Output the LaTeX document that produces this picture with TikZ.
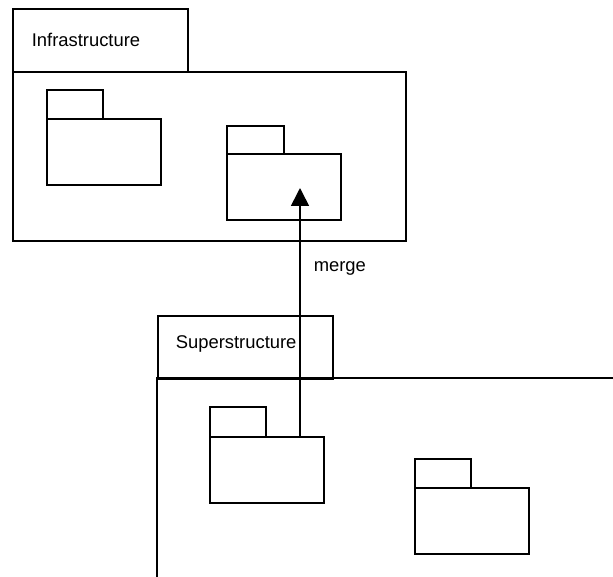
\documentclass[tikz,border=0pt]{standalone}
\usepackage{fontspec}
\setmainfont{Liberation Sans}
\usetikzlibrary{arrows.meta}
\begin{document}
\begin{tikzpicture}[x=1pt,y=-1pt,
  line width=1.6pt,
  box/.style={draw,rectangle,inner sep=0pt,anchor=north west},
  lbl/.style={font=\fontsize{18.4}{20}\selectfont,inner sep=0pt}]
\useasboundingbox (0,0) rectangle (613,577);
% Infrastructure package
\node[box,minimum width=175pt,minimum height=63pt] (infTab) at (12,8) {};
\node[box,minimum width=393pt,minimum height=169pt] (infBody) at (12,71) {};
\node[lbl,anchor=west] (infName) at (31,40) {Infrastructure};
% packages inside Infrastructure
\node[box,minimum width=56pt,minimum height=29pt] (iaTab) at (46,89) {};
\node[box,minimum width=114pt,minimum height=66pt] (iaBody) at (46,118) {};
\node[box,minimum width=57pt,minimum height=28pt] (ibTab) at (226,125) {};
\node[box,minimum width=114pt,minimum height=66pt] (ibBody) at (226,153) {};
\coordinate (mergeTip) at (300,188);
% Superstructure package (runs past the right and bottom edges)
\node[box,minimum width=175pt,minimum height=63pt] (supTab) at (157,315) {};
\node[lbl,anchor=west] (supName) at (175,344) {Superstructure};
\coordinate (supRight) at (613,378);
\coordinate (supBottom) at (157,577);
\draw (supRight) -- (supBottom |- supRight) -- (supBottom);
% packages inside Superstructure
\node[box,minimum width=56pt,minimum height=30pt] (saTab) at (209,406) {};
\node[box,minimum width=114pt,minimum height=66pt] (saBody) at (209,436) {};
\node[box,minimum width=56pt,minimum height=29pt] (sbTab) at (414,458) {};
\node[box,minimum width=114pt,minimum height=66pt] (sbBody) at (414,487) {};
% merge dependency
\coordinate (mergeStart) at (mergeTip |- saBody.north);
\draw[-{Triangle[length=18pt,width=18pt]}] (mergeStart) -- (mergeTip);
\node[lbl,anchor=west] (mergeLbl) at (313,268) {merge};
\end{tikzpicture}
\end{document}
